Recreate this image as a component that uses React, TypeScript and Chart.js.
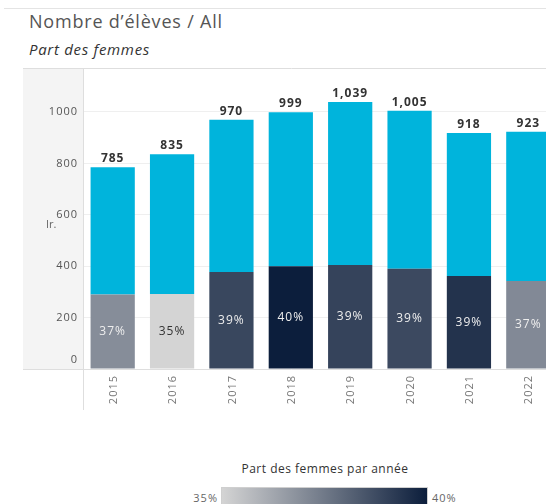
import React, { useEffect, useRef } from "react";
import { Chart, registerables } from "chart.js";

Chart.register(...registerables);

const years = ["2015", "2016", "2017", "2018", "2019", "2020", "2021", "2022"];
const totals = [785, 835, 970, 999, 1039, 1005, 918, 923];
const women = [290, 292, 377, 400, 405, 390, 362, 342];
const yTicks = [0, 200, 400, 600, 800, 1000];
const legendLow = 35;
const legendHigh = 40;

const FONT = "'Open Sans', 'DejaVu Sans', sans-serif";
const CYAN = "#00b4dc";
const LIGHT = [212, 212, 212];
const DARK = [12, 30, 60];

function shareColor(p: number): string {
  const t = Math.max(0, Math.min(1, (p - legendLow) / (legendHigh - legendLow)));
  const c = LIGHT.map((l, k) => Math.round(l + (DARK[k] - l) * t));
  return `rgb(${c[0]},${c[1]},${c[2]})`;
}

const shares = women.map((w, i) => (w / totals[i]) * 100);
const men = totals.map((t, i) => t - women[i]);

const decorPlugin = {
  id: "decor",
  beforeDraw(chart: any) {
    const { ctx, chartArea } = chart;
    ctx.save();
    ctx.fillStyle = "#f4f4f4";
    ctx.fillRect(23, chartArea.top, chartArea.left - 23, chartArea.bottom - chartArea.top);
    ctx.restore();
  },
  afterDraw(chart: any) {
    const { ctx, chartArea, scales } = chart;
    ctx.save();
    ctx.strokeStyle = "#dedede";
    ctx.lineWidth = 1;
    ctx.beginPath();
    ctx.moveTo(23, chartArea.top + 0.5);
    ctx.lineTo(chart.width, chartArea.top + 0.5);
    ctx.stroke();
    ctx.beginPath();
    ctx.moveTo(23, chartArea.bottom + 0.5);
    ctx.lineTo(chart.width, chartArea.bottom + 0.5);
    ctx.stroke();
    ctx.beginPath();
    ctx.moveTo(chartArea.left + 0.5, chartArea.top);
    ctx.lineTo(chartArea.left + 0.5, chartArea.bottom + 41);
    ctx.stroke();

    // y tick labels
    const y = scales.y;
    ctx.fillStyle = "#555";
    ctx.font = `11px ${FONT}`;
    (ctx as any).letterSpacing = "1px";
    ctx.textAlign = "right";
    ctx.textBaseline = "middle";
    yTicks.forEach((v) => {
      const py = Math.min(y.getPixelForValue(v), chartArea.bottom - 9);
      ctx.fillText(String(v), chartArea.left - 5, py);
    });
    // truncated axis title
    ctx.fillStyle = "#666";
    ctx.textAlign = "left";
    (ctx as any).letterSpacing = "0px";
    ctx.fillText("Ir.", 46, 225);

    // x labels (rotated)
    const x = scales.x;
    ctx.fillStyle = "#777";
    ctx.font = `11px ${FONT}`;
    (ctx as any).letterSpacing = "1px";
    years.forEach((lab, i) => {
      const px = x.getPixelForValue(i);
      ctx.save();
      ctx.translate(px + 1, chartArea.bottom + 6);
      ctx.rotate(-Math.PI / 2);
      ctx.textAlign = "right";
      ctx.textBaseline = "middle";
      ctx.fillText(lab, 0, 0);
      ctx.restore();
    });

    // value labels
    const mMeta = chart.getDatasetMeta(1);
    const wMeta = chart.getDatasetMeta(0);
    years.forEach((_, i) => {
      const top = mMeta.data[i];
      const wb = wMeta.data[i];
      ctx.fillStyle = "#333";
      ctx.font = `bold 12px ${FONT}`;
      (ctx as any).letterSpacing = "1px";
      ctx.textAlign = "center";
      ctx.textBaseline = "alphabetic";
      ctx.fillText(totals[i].toLocaleString("en-US"), top.x, top.y - 5);
      const share = shares[i];
      ctx.font = `500 12px ${FONT}`;
      (ctx as any).letterSpacing = "1px";
      ctx.textBaseline = "middle";
      ctx.fillStyle = share < 36 ? "#333" : "#eeeeee";
      ctx.fillText(`${Math.round(share)}%`, wb.x, (wb.y + wb.base) / 2);
    });
    ctx.restore();
  },
};

export default function App() {
  const ref = useRef<HTMLCanvasElement | null>(null);

  useEffect(() => {
    if (!ref.current) return;
    const chart = new Chart(ref.current, {
      type: "bar",
      data: {
        labels: years,
        datasets: [
          {
            label: "Femmes",
            data: women,
            backgroundColor: shares.map(shareColor),
            borderWidth: 0,
            barPercentage: 0.745,
            categoryPercentage: 1,
          },
          {
            label: "Total",
            data: men,
            backgroundColor: CYAN,
            borderWidth: 0,
            barPercentage: 0.745,
            categoryPercentage: 1,
          },
        ],
      },
      options: {
        responsive: false,
        animation: false,
        devicePixelRatio: 1,
        layout: { padding: { left: 23, top: 68, right: 2, bottom: 10 } },
        plugins: {
          legend: { display: false },
          tooltip: { enabled: false },
          title: { display: false },
        },
        scales: {
          x: {
            stacked: true,
            grid: { display: false },
            border: { display: false },
            ticks: { display: false },
            afterFit(scale: any) {
              scale.height = 41;
            },
          },
          y: {
            stacked: true,
            min: 0,
            max: 1171,
            grid: { color: "#efefef", drawTicks: false },
            border: { display: false },
            ticks: { display: false, stepSize: 200 },
            afterBuildTicks(scale: any) {
              scale.ticks = yTicks.map((v) => ({ value: v }));
            },
            afterFit(scale: any) {
              scale.width = 60;
            },
          },
        },
      },
      plugins: [decorPlugin],
    });
    return () => chart.destroy();
  }, []);

  return (
    <div
      style={{
        position: "absolute",
        left: 0,
        top: 0,
        width: 546,
        height: 504,
        overflow: "hidden",
        background: "#fff",
        fontFamily: FONT,
      }}
    >
      <div style={{ position: "absolute", left: 4, right: 0, top: 8, height: 1, background: "#e4e4e4" }} />
      <div style={{ position: "absolute", left: 29, top: 9, fontSize: 18, letterSpacing: 0.8, color: "#555", whiteSpace: "nowrap" }}>
        Nombre d’élèves / All
      </div>
      <div style={{ position: "absolute", left: 29, top: 39, fontSize: 15, letterSpacing: 0.7, fontStyle: "italic", color: "#333", whiteSpace: "nowrap" }}>
        Part des femmes
      </div>
      <canvas
        ref={ref}
        width={560}
        height={420}
        style={{ position: "absolute", left: 0, top: 0, width: 560, height: 420 }}
      />
      <div style={{ position: "absolute", left: 200, width: 250, top: 460, textAlign: "center", fontSize: 12, letterSpacing: 0.5, color: "#333", whiteSpace: "nowrap" }}>
        Part des femmes par année
      </div>
      <div style={{ position: "absolute", left: 170, width: 48, top: 490, textAlign: "right", fontSize: 11, letterSpacing: 1, color: "#666" }}>
        {legendLow}%
      </div>
      <div
        style={{
          position: "absolute",
          left: 221,
          top: 487,
          width: 207,
          height: 17,
          boxSizing: "border-box",
          border: "1px solid #cfcfcf",
          borderBottom: "none",
          background: `linear-gradient(to right, ${shareColor(legendLow)}, ${shareColor(legendHigh)})`,
        }}
      />
      <div style={{ position: "absolute", left: 432, top: 490, fontSize: 11, letterSpacing: 1, color: "#666" }}>
        {legendHigh}%
      </div>
    </div>
  );
}
